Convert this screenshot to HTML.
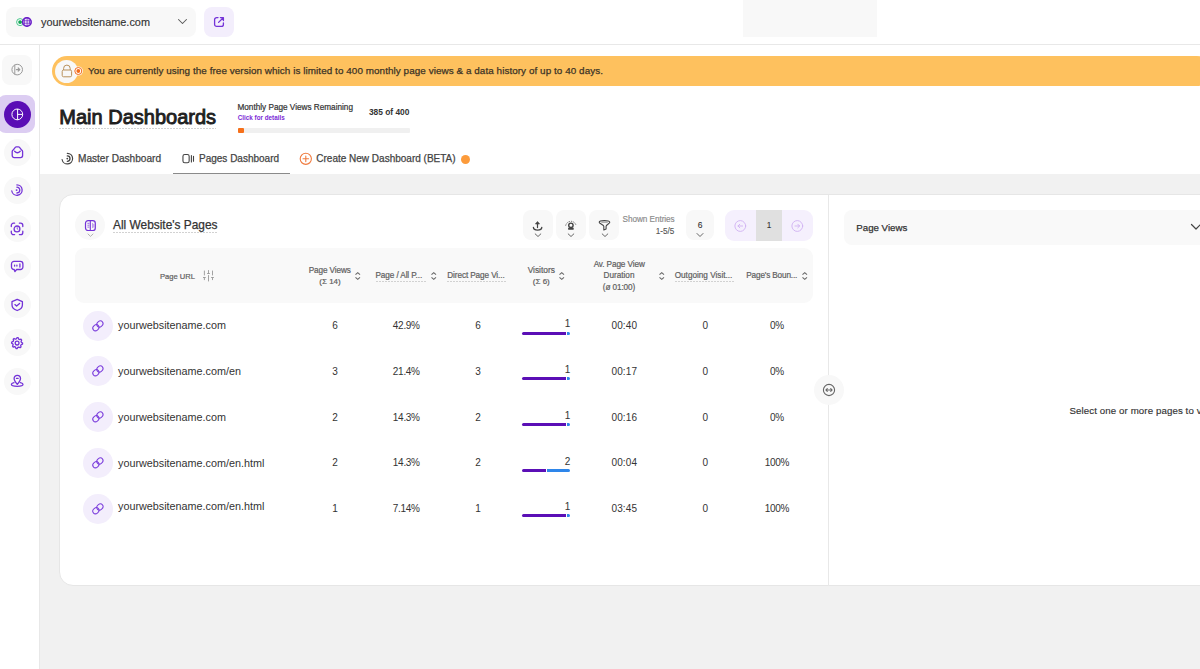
<!DOCTYPE html>
<html><head><meta charset="utf-8"><style>
html,body{margin:0;padding:0;width:1200px;height:669px;overflow:hidden;background:#fff;font-family:"Liberation Sans",sans-serif;}
#root{position:relative;width:1200px;height:669px;overflow:hidden;}
.a{position:absolute;}
.t{position:absolute;white-space:nowrap;line-height:1;}
svg{overflow:visible}
</style></head><body><div id="root">
<div class="a" style="left:6px;top:7px;width:190px;height:30px;background:#f8f8f8;border-radius:8px;"></div>
<svg class="a" style="left:12px;top:14px;" width="24" height="16" viewBox="0 0 24 16" fill="none"><circle cx="8.1" cy="8.1" r="3.5" fill="#fff" stroke="#48c68a" stroke-width="1"/><circle cx="8.1" cy="8.1" r="1.9" fill="#12a356"/><circle cx="14.9" cy="8" r="4.3" fill="#fff" stroke="#6a1ec8" stroke-width="1.5"/><ellipse cx="14.9" cy="8" rx="2.6" ry="4.3" stroke="#6a1ec8" stroke-width="0.8"/><path d="M15.1 3.7v8.6M10.6 6.8h8.6M10.6 9.2h8.6" stroke="#6a1ec8" stroke-width="0.8"/></svg>
<div class="t" style="left:41px;top:17px;font-size:10.9px;color:#333;font-weight:400;-webkit-text-stroke:0.15px #333;">yourwebsitename.com</div>
<svg class="a" style="left:176px;top:17px;" width="12" height="9" viewBox="0 0 12 9" fill="none"><path d="M2.5 2.5l4 4 4-4" stroke="#555" stroke-width="1.05" stroke-linecap="round" stroke-linejoin="round"/></svg>
<div class="a" style="left:204px;top:7px;width:30px;height:30px;background:#f3eefc;border-radius:8px;"></div>
<svg class="a" style="left:213px;top:16px;" width="12" height="12" viewBox="0 0 12 12" fill="none"><path d="M5 1.6H3.6A2 2 0 0 0 1.6 3.6v4.8a2 2 0 0 0 2 2h4.8a2 2 0 0 0 2-2V7" stroke="#7433d8" stroke-width="1.3" stroke-linecap="round"/><path d="M5.6 6.4L10.2 1.8M7.4 1.6h3v3" stroke="#7433d8" stroke-width="1.3" stroke-linecap="round" stroke-linejoin="round"/></svg>
<div class="a" style="left:743px;top:0px;width:134px;height:37px;background:#f8f8f8;border-radius:0px;"></div>
<div class="a" style="left:0px;top:44px;width:1200px;height:1px;background:#e8e8e8;border-radius:0px;"></div>
<div class="a" style="left:39px;top:45px;width:1px;height:624px;background:#e8e8e8;border-radius:0px;"></div>
<div class="a" style="left:2px;top:55px;width:30px;height:30px;background:#f8f8f8;border-radius:8px;"></div>
<svg class="a" style="left:10px;top:62px;" width="14" height="14" viewBox="0 0 14 14" fill="none"><circle cx="7.2" cy="7.6" r="5.3" stroke="#9a9a9a" stroke-width="1"/><path d="M4.8 2.8v9.6" stroke="#9a9a9a" stroke-width="1"/><path d="M6.4 7.6h3.2M8.2 6l1.6 1.6-1.6 1.6" stroke="#9a9a9a" stroke-width="1.2" stroke-linecap="round" stroke-linejoin="round"/></svg>
<div class="a" style="left:-3px;top:95px;width:38px;height:38px;background:#dccdf2;border-radius:9px;"></div>
<div class="a" style="left:4px;top:101px;width:27px;height:27px;border-radius:50%;background:#5a0db5"></div>
<svg class="a" style="left:10px;top:107px;" width="15" height="15" viewBox="0 0 15 15" fill="none"><circle cx="7.3" cy="7.4" r="5.4" stroke="#fff" stroke-width="1"/><path d="M7.6 2v10.8M7.6 7.4h5.1" stroke="#fff" stroke-width="1"/></svg>
<div class="a" style="left:3.5px;top:138.5px;width:27px;height:27px;border-radius:50%;background:#f8f8f8"></div>
<div class="a" style="left:3.5px;top:176.5px;width:27px;height:27px;border-radius:50%;background:#f8f8f8"></div>
<div class="a" style="left:3.5px;top:215.0px;width:27px;height:27px;border-radius:50%;background:#f8f8f8"></div>
<div class="a" style="left:3.5px;top:253.0px;width:27px;height:27px;border-radius:50%;background:#f8f8f8"></div>
<div class="a" style="left:3.5px;top:291.0px;width:27px;height:27px;border-radius:50%;background:#f8f8f8"></div>
<div class="a" style="left:3.5px;top:329.0px;width:27px;height:27px;border-radius:50%;background:#f8f8f8"></div>
<div class="a" style="left:3.5px;top:367.5px;width:27px;height:27px;border-radius:50%;background:#f8f8f8"></div>
<svg class="a" style="left:9px;top:144.2px;" width="16" height="16" viewBox="0 0 16 16" fill="none"><path d="M4.3 5.9L6.3 3.3Q6.7 2.8 7.3 2.8H9.5Q10.1 2.8 10.5 3.3L12.5 5.9Q13.6 6.4 13.6 7.6V11.6A2 2 0 0 1 11.6 13.6H5.2A2 2 0 0 1 3.2 11.6V7.6Q3.2 6.4 4.3 5.9z" stroke="#7433d8" stroke-width="1.3" stroke-linecap="round" stroke-linejoin="round"/><path d="M5.6 7.3Q8.4 10.2 11.2 7.3" stroke="#7433d8" stroke-width="1.3" stroke-linecap="round" stroke-linejoin="round"/></svg>
<svg class="a" style="left:9px;top:182.2px;" width="16" height="16" viewBox="0 0 16 16" fill="none"><path d="M7.9 2.9A5.2 5.2 0 1 1 2.8 9" stroke="#7433d8" stroke-width="1.3" stroke-linecap="round" stroke-linejoin="round"/><path d="M7.9 5.2A2.9 2.9 0 0 1 7.9 11" stroke="#7433d8" stroke-width="1.3" stroke-linecap="round" stroke-linejoin="round"/><circle cx="7.6" cy="8.1" r="0.95" fill="#7433d8"/></svg>
<svg class="a" style="left:9px;top:220.7px;" width="16" height="16" viewBox="0 0 16 16" fill="none"><path d="M2.3 5.6V4.4A2.2 2.2 0 0 1 4.5 2.2H5.6M10.4 2.2H11.6A2.2 2.2 0 0 1 13.8 4.4V5.6M13.8 10.2V11.4A2.2 2.2 0 0 1 11.6 13.6H10.4M5.6 13.6H4.5A2.2 2.2 0 0 1 2.3 11.4V10.2" stroke="#7433d8" stroke-width="1.3" stroke-linecap="round" stroke-linejoin="round"/><circle cx="8" cy="7.9" r="2.9" stroke="#7433d8" stroke-width="1.3" stroke-linecap="round" stroke-linejoin="round"/><path d="M8.2 6.6v1.3l.7.5" stroke="#7433d8" stroke-width="0.8" stroke-linecap="round"/></svg>
<svg class="a" style="left:9px;top:258.7px;" width="16" height="16" viewBox="0 0 16 16" fill="none"><path d="M5 2.4H11.4A2.5 2.5 0 0 1 13.9 4.9V8A2.5 2.5 0 0 1 11.4 10.5H7.6L5.9 12.6 5.2 10.5H5A2.5 2.5 0 0 1 2.5 8V4.9A2.5 2.5 0 0 1 5 2.4z" stroke="#7433d8" stroke-width="1.3" stroke-linecap="round" stroke-linejoin="round"/><path d="M5.6 6.1v.9M7.9 6.1v.9M10.9 4.9v3.2" stroke="#7433d8" stroke-width="1.3" stroke-linecap="round" stroke-linejoin="round"/></svg>
<svg class="a" style="left:9px;top:296.7px;" width="16" height="16" viewBox="0 0 16 16" fill="none"><path d="M8.2 2.4L13.4 4.6V8C13.4 10.6 11.2 12.6 8.2 13.5 5.2 12.6 3 10.6 3 8V4.6z" stroke="#7433d8" stroke-width="1.3" stroke-linecap="round" stroke-linejoin="round"/><path d="M5.9 7.6L7.6 9.1 10.6 6.4" stroke="#7433d8" stroke-width="1.3" stroke-linecap="round" stroke-linejoin="round"/></svg>
<svg class="a" style="left:9px;top:334.7px;" width="16" height="16" viewBox="0 0 16 16" fill="none"><path d="M8.10 2.60L9.17 2.71L9.75 4.13L10.49 4.52L11.99 4.21L12.67 5.04L12.07 6.45L12.32 7.26L13.60 8.10L13.49 9.17L12.07 9.75L11.68 10.49L11.99 11.99L11.16 12.67L9.75 12.07L8.94 12.32L8.10 13.60L7.03 13.49L6.45 12.07L5.71 11.68L4.21 11.99L3.53 11.16L4.13 9.75L3.88 8.94L2.60 8.10L2.71 7.03L4.13 6.45L4.52 5.71L4.21 4.21L5.04 3.53L6.45 4.13L7.26 3.88Z" stroke="#7433d8" stroke-width="1.3" stroke-linecap="round" stroke-linejoin="round"/><circle cx="8.1" cy="8.1" r="1.9" stroke="#7433d8" stroke-width="1.3" stroke-linecap="round" stroke-linejoin="round"/></svg>
<svg class="a" style="left:9px;top:373.2px;" width="16" height="16" viewBox="0 0 16 16" fill="none"><path d="M8.3 11.4C6.6 9.4 5.1 7.6 5.1 5.5A3.2 3.2 0 0 1 11.5 5.5C11.5 7.6 10 9.4 8.3 11.4z" stroke="#7433d8" stroke-width="1.3" stroke-linecap="round" stroke-linejoin="round"/><path d="M7.5 5.4H9.1" stroke="#7433d8" stroke-width="1.3" stroke-linecap="round" stroke-linejoin="round"/><path d="M5 9.6C3.3 10 2.4 10.6 2.4 11.3 2.4 12.6 5 13.4 8.2 13.4S14 12.6 14 11.3C14 10.6 13.1 10 11.4 9.6" stroke="#7433d8" stroke-width="1.3" stroke-linecap="round" stroke-linejoin="round"/></svg>
<div class="a" style="left:40px;top:174px;width:1160px;height:495px;background:#f1f1f1;border-radius:0px;"></div>
<div class="a" style="left:52px;top:56px;width:1160px;height:30px;background:#fec15e;border-radius:15px;"></div>
<div class="a" style="left:54.5px;top:59.5px;width:23px;height:23px;border-radius:50%;background:#f8f8f8"></div>
<svg class="a" style="left:60px;top:64px;" width="14" height="14" viewBox="0 0 14 14" fill="none"><rect x="2.2" y="6" width="9.4" height="6.8" rx="1.4" stroke="#b8905a" stroke-width="1"/><path d="M3.6 6V4.4a3.3 3.3 0 0 1 6.6 0V6" stroke="#b8905a" stroke-width="1"/></svg>
<svg class="a" style="left:73px;top:66px;" width="11" height="11" viewBox="0 0 11 11" fill="none"><circle cx="5.3" cy="5" r="4.6" fill="#fff"/><circle cx="5.3" cy="5" r="3.5" fill="none" stroke="#f26a1b" stroke-width="1"/><circle cx="5.3" cy="5" r="1.9" fill="#f26a1b"/></svg>
<div class="t" style="left:88px;top:66px;font-size:9.9px;color:#3b3326;font-weight:400;letter-spacing:0.065px;-webkit-text-stroke:0.25px #3b3326;">You are currently using the free version which is limited to 400 monthly page views &amp; a data history of up to 40 days.</div>
<div class="t" style="left:59.3px;top:107px;font-size:20px;color:#1f1f1f;font-weight:400;-webkit-text-stroke:0.9px #1f1f1f;">Main Dashboards</div>
<div class="a" style="left:59px;top:128px;width:157px;height:1px;background:transparent;border-radius:0px;background:repeating-linear-gradient(90deg,#d2d2d2 0 2px,transparent 2px 3px);"></div>
<div class="t" style="left:237.5px;top:104px;font-size:8.2px;color:#333;font-weight:400;-webkit-text-stroke:0.2px #333;">Monthly Page Views Remaining</div>
<div class="t" style="left:237.8px;top:115px;font-size:6.3px;color:#7b2ad6;font-weight:700;">Click for details</div>
<div class="t" style="left:9.399999999999977px;width:400px;text-align:right;top:108px;font-size:8.4px;color:#333;font-weight:700;">385 of 400</div>
<div class="a" style="left:238px;top:128px;width:172px;height:5px;background:#f0f0f0;border-radius:1px;"></div>
<div class="a" style="left:238px;top:128px;width:6px;height:5px;background:#f6701a;border-radius:1px;"></div>
<svg class="a" style="left:60px;top:152px;" width="14" height="14" viewBox="0 0 14 14" fill="none"><path d="M7.3 1.3A5.3 5.3 0 1 1 2.08 7.5" stroke="#444" stroke-width="1.2" stroke-linecap="round"/><path d="M7.3 3.9A2.7 2.7 0 0 1 7.3 9.3" stroke="#444" stroke-width="1.3" stroke-linecap="round"/><circle cx="7.3" cy="6.6" r="0.9" fill="#444"/></svg>
<div class="t" style="left:78px;top:154px;font-size:10.1px;color:#444;font-weight:400;-webkit-text-stroke:0.25px #444;">Master Dashboard</div>
<svg class="a" style="left:180px;top:152px;" width="15" height="14" viewBox="0 0 15 14" fill="none"><rect x="2.95" y="2.55" width="6.2" height="8.2" rx="1.8" stroke="#444" stroke-width="1.1"/><path d="M11.4 3.6v6.3M13.5 4.2v5" stroke="#444" stroke-width="1.1" stroke-linecap="round"/></svg>
<div class="t" style="left:199px;top:154px;font-size:10px;color:#444;font-weight:400;-webkit-text-stroke:0.25px #444;">Pages Dashboard</div>
<div class="a" style="left:172.5px;top:172.5px;width:117px;height:1.5px;background:#8a8a8a;border-radius:0px;"></div>
<svg class="a" style="left:299px;top:152px;" width="14" height="14" viewBox="0 0 14 14" fill="none"><circle cx="6.8" cy="6.8" r="5.6" stroke="#f07b3f" stroke-width="1.1"/><path d="M6.8 4v5.6M4 6.8h5.6" stroke="#f07b3f" stroke-width="1.1" stroke-linecap="round"/></svg>
<div class="t" style="left:316.3px;top:154px;font-size:10px;color:#444;font-weight:400;-webkit-text-stroke:0.25px #444;">Create New Dashboard (BETA)</div>
<div class="a" style="left:461px;top:154.5px;width:9px;height:9px;border-radius:50%;background:#fc9b3b"></div>
<div class="a" style="left:59px;top:194px;width:1161px;height:392px;background:#fff;border:1px solid #e6e6e6;border-radius:14px;box-sizing:border-box"></div>
<div class="a" style="left:828px;top:195px;width:1px;height:391px;background:#e8e8e8;border-radius:0px;"></div>
<div class="a" style="left:814px;top:375px;width:30px;height:30px;border-radius:50%;background:#f8f8f8"></div>
<svg class="a" style="left:822px;top:383px;" width="14" height="14" viewBox="0 0 14 14" fill="none"><circle cx="7" cy="7" r="5.6" stroke="#666" stroke-width="1.1"/><path d="M4.2 7h5.6" stroke="#666" stroke-width="1"/><path d="M5.6 5.4L4 7l1.6 1.6M8.4 5.4L10 7 8.4 8.6" stroke="#666" stroke-width="1.2" stroke-linejoin="round"/></svg>
<div class="a" style="left:75px;top:210px;width:30px;height:30px;border-radius:50%;background:#f8f8f8"></div>
<svg class="a" style="left:84px;top:219px;" width="13" height="13" viewBox="0 0 13 13" fill="none"><rect x="1.5" y="1.6" width="9.8" height="9.9" rx="2.6" stroke="#7433d8" stroke-width="1.2"/><path d="M6.3 1.6v9.9" stroke="#7433d8" stroke-width="1.1"/><path d="M3.4 4.3h2M3.4 6.2h2M3.4 8.1h2" stroke="#7433d8" stroke-width="0.9" opacity="0.8"/><path d="M8.6 4v5M9.8 5v3.5" stroke="#7433d8" stroke-width="0.8" opacity="0.6"/></svg>
<svg class="a" style="left:87px;top:233px;" width="7" height="5" viewBox="0 0 7 5" fill="none"><path d="M1 1l2.5 2.4L6 1" stroke="#aaa" stroke-width="0.9" stroke-linecap="round" stroke-linejoin="round"/></svg>
<div class="t" style="left:113px;top:220px;font-size:11.9px;color:#333;font-weight:400;-webkit-text-stroke:0.25px #333;">All Website's Pages</div>
<div class="a" style="left:113px;top:232px;width:104px;height:1px;background:transparent;border-radius:0px;background:repeating-linear-gradient(90deg,#d2d2d2 0 2px,transparent 2px 3px);"></div>
<div class="a" style="left:523px;top:210px;width:30px;height:30px;background:#f8f8f8;border-radius:8px;"></div>
<div class="a" style="left:556px;top:210px;width:30px;height:30px;background:#f8f8f8;border-radius:8px;"></div>
<div class="a" style="left:589px;top:210px;width:30px;height:30px;background:#f8f8f8;border-radius:8px;"></div>
<svg class="a" style="left:531px;top:219px;" width="14" height="14" viewBox="0 0 14 14" fill="none"><path d="M6.5 3.4V8.6" stroke="#444" stroke-width="1.2" stroke-linecap="round"/><path d="M4.4 5L6.5 2.6 8.6 5z" fill="#444" stroke="#444" stroke-width="0.6" stroke-linejoin="round"/><path d="M2.4 8.4Q2.6 11.1 6.6 11.1Q10.6 11.1 10.8 8.4" stroke="#444" stroke-width="1.3" stroke-linecap="round"/></svg>
<svg class="a" style="left:564px;top:219px;" width="14" height="14" viewBox="0 0 14 14" fill="none"><circle cx="6.9" cy="6.3" r="2.2" stroke="#444" stroke-width="1.4"/><rect x="4.1" y="8.7" width="5.6" height="2" rx="0.4" fill="#444"/><path d="M1.7 6.6A5.3 5.3 0 0 1 12.1 6.6" stroke="#555" stroke-width="0.9" stroke-dasharray="1.3 1.1"/></svg>
<svg class="a" style="left:597px;top:219px;" width="14" height="14" viewBox="0 0 14 14" fill="none"><path d="M2.2 3.3C2.2 1.1 12.8 1.1 12.8 3.3C12.8 4.7 9.1 5.9 9.1 7.3V10.1L6.8 11V7.3C6.8 5.9 2.2 4.7 2.2 3.3z" stroke="#444" stroke-width="1.1" stroke-linejoin="round"/><path d="M4.8 3.2H10.2" stroke="#999" stroke-width="1.1" stroke-linecap="round"/></svg>
<svg class="a" style="left:534px;top:233px;" width="8" height="5" viewBox="0 0 8 5" fill="none"><path d="M1.2 0.9l2.8 2.6 2.8-2.6" stroke="#555" stroke-width="0.9" stroke-linecap="round" stroke-linejoin="round"/></svg>
<svg class="a" style="left:567px;top:233px;" width="8" height="5" viewBox="0 0 8 5" fill="none"><path d="M1.2 0.9l2.8 2.6 2.8-2.6" stroke="#555" stroke-width="0.9" stroke-linecap="round" stroke-linejoin="round"/></svg>
<svg class="a" style="left:600.5px;top:233px;" width="8" height="5" viewBox="0 0 8 5" fill="none"><path d="M1.2 0.9l2.8 2.6 2.8-2.6" stroke="#555" stroke-width="0.9" stroke-linecap="round" stroke-linejoin="round"/></svg>
<div class="t" style="left:622.5px;top:216px;font-size:8.2px;color:#8a8a8a;font-weight:400;letter-spacing:-0.05px;-webkit-text-stroke:0.15px #8a8a8a;">Shown Entries</div>
<div class="t" style="left:274.29999999999995px;width:400px;text-align:right;top:228px;font-size:8.2px;color:#555;font-weight:400;-webkit-text-stroke:0.1px #555;">1-5/5</div>
<div class="a" style="left:686px;top:210px;width:28px;height:30px;background:#f8f8f8;border-radius:8px;"></div>
<div class="t" style="left:500px;width:400px;text-align:center;top:221px;font-size:8.5px;color:#333;font-weight:400;-webkit-text-stroke:0.1px #333;">6</div>
<svg class="a" style="left:696px;top:232px;" width="8" height="6" viewBox="0 0 8 6" fill="none"><path d="M1 1.5l3 3 3-3" stroke="#555" stroke-width="0.9" stroke-linecap="round" stroke-linejoin="round"/></svg>
<div class="a" style="left:725px;top:210px;width:88px;height:31px;background:#f5f0fd;border-radius:9px;"></div>
<div class="a" style="left:756px;top:210px;width:26px;height:31px;background:#e0e0e0;border-radius:0px;"></div>
<div class="t" style="left:569px;width:400px;text-align:center;top:222px;font-size:8.2px;color:#333;font-weight:400;-webkit-text-stroke:0.1px #333;">1</div>
<svg class="a" style="left:733.4px;top:218.5px;" width="14" height="14" viewBox="0 0 14 14" fill="none"><circle cx="7.3" cy="7" r="5.4" stroke="#d2b4f2" stroke-width="0.95" stroke-linecap="round" stroke-linejoin="round"/><path d="M9.6 7H5M6.8 5.2L5 7l1.8 1.8" stroke="#d2b4f2" stroke-width="0.95" stroke-linecap="round" stroke-linejoin="round"/></svg>
<svg class="a" style="left:790.2px;top:218.5px;" width="14" height="14" viewBox="0 0 14 14" fill="none"><circle cx="7.3" cy="7" r="5.4" stroke="#d2b4f2" stroke-width="0.95" stroke-linecap="round" stroke-linejoin="round"/><path d="M5 7h4.6M7.8 5.2L9.6 7 7.8 8.8" stroke="#d2b4f2" stroke-width="0.95" stroke-linecap="round" stroke-linejoin="round"/></svg>
<div class="a" style="left:75px;top:248px;width:738px;height:55px;background:#f9f9f9;border-radius:9px;"></div>
<div class="t" style="left:160px;top:273px;font-size:7.6px;color:#606060;font-weight:400;-webkit-text-stroke:0.2px #606060;">Page URL</div>
<svg class="a" style="left:201px;top:269px;" width="14" height="14" viewBox="0 0 14 14" fill="none"><path d="M3.4 2v4M3.4 8.5v2.2M2.4 8.5h2M7.5 1.5v3M7.5 6.5v5.5M6.5 4.5h2M11.5 2v4M11.5 8.5v2.2M10.5 8.5h2" stroke="#999" stroke-width="0.9" stroke-linecap="round"/></svg>
<div class="t" style="left:129.7px;width:400px;text-align:center;top:267px;font-size:8.2px;color:#606060;font-weight:400;letter-spacing:-0.1px;-webkit-text-stroke:0.2px #606060;">Page Views</div>
<div class="t" style="left:130px;width:400px;text-align:center;top:278px;font-size:8px;color:#606060;font-weight:400;-webkit-text-stroke:0.2px #606060;">(Σ 14)</div>
<svg class="a" style="left:355px;top:272px;" width="6" height="8" viewBox="0 0 6 8" fill="none"><path d="M0.5 2.7L2.75 0.6 5 2.7M0.5 5.3L2.75 7.4 5 5.3" stroke="#666" stroke-width="1.05" stroke-linecap="butt" stroke-linejoin="miter"/></svg>
<div class="t" style="left:375.5px;top:272px;font-size:8.2px;color:#606060;font-weight:400;letter-spacing:-0.1px;-webkit-text-stroke:0.2px #606060;">Page / All P...</div>
<div class="a" style="left:376px;top:281px;width:51px;height:1px;background:transparent;border-radius:0px;background:repeating-linear-gradient(90deg,#d2d2d2 0 2px,transparent 2px 3px);"></div>
<svg class="a" style="left:431px;top:272px;" width="6" height="8" viewBox="0 0 6 8" fill="none"><path d="M0.5 2.7L2.75 0.6 5 2.7M0.5 5.3L2.75 7.4 5 5.3" stroke="#666" stroke-width="1.05" stroke-linecap="butt" stroke-linejoin="miter"/></svg>
<div class="t" style="left:447.3px;top:272px;font-size:8.2px;color:#606060;font-weight:400;letter-spacing:-0.1px;-webkit-text-stroke:0.2px #606060;">Direct Page Vi...</div>
<div class="a" style="left:447px;top:281px;width:59px;height:1px;background:transparent;border-radius:0px;background:repeating-linear-gradient(90deg,#d2d2d2 0 2px,transparent 2px 3px);"></div>
<div class="t" style="left:341.29999999999995px;width:400px;text-align:center;top:266px;font-size:8.4px;color:#606060;font-weight:400;-webkit-text-stroke:0.2px #606060;">Visitors</div>
<div class="t" style="left:341.29999999999995px;width:400px;text-align:center;top:278px;font-size:8px;color:#606060;font-weight:400;-webkit-text-stroke:0.2px #606060;">(Σ 6)</div>
<svg class="a" style="left:559px;top:272px;" width="6" height="8" viewBox="0 0 6 8" fill="none"><path d="M0.5 2.7L2.75 0.6 5 2.7M0.5 5.3L2.75 7.4 5 5.3" stroke="#666" stroke-width="1.05" stroke-linecap="butt" stroke-linejoin="miter"/></svg>
<div class="t" style="left:419.20000000000005px;width:400px;text-align:center;top:261px;font-size:8.2px;color:#606060;font-weight:400;letter-spacing:-0.1px;-webkit-text-stroke:0.2px #606060;">Av. Page View</div>
<div class="t" style="left:419px;width:400px;text-align:center;top:272px;font-size:8.2px;color:#606060;font-weight:400;-webkit-text-stroke:0.2px #606060;">Duration</div>
<div class="t" style="left:419px;width:400px;text-align:center;top:284px;font-size:8.2px;color:#606060;font-weight:400;letter-spacing:-0.1px;-webkit-text-stroke:0.2px #606060;">(ø 01:00)</div>
<svg class="a" style="left:658.5px;top:272px;" width="6" height="8" viewBox="0 0 6 8" fill="none"><path d="M0.5 2.7L2.75 0.6 5 2.7M0.5 5.3L2.75 7.4 5 5.3" stroke="#666" stroke-width="1.05" stroke-linecap="butt" stroke-linejoin="miter"/></svg>
<div class="t" style="left:674.7px;top:272px;font-size:8.2px;color:#606060;font-weight:400;-webkit-text-stroke:0.2px #606060;">Outgoing Visit...</div>
<div class="a" style="left:675px;top:281px;width:59px;height:1px;background:transparent;border-radius:0px;background:repeating-linear-gradient(90deg,#d2d2d2 0 2px,transparent 2px 3px);"></div>
<div class="t" style="left:746.3px;top:272px;font-size:8.2px;color:#606060;font-weight:400;letter-spacing:-0.15px;-webkit-text-stroke:0.2px #606060;">Page's Boun...</div>
<svg class="a" style="left:801.5px;top:272px;" width="6" height="8" viewBox="0 0 6 8" fill="none"><path d="M0.5 2.7L2.75 0.6 5 2.7M0.5 5.3L2.75 7.4 5 5.3" stroke="#666" stroke-width="1.05" stroke-linecap="butt" stroke-linejoin="miter"/></svg>
<div class="a" style="left:83px;top:311px;width:30px;height:30px;border-radius:50%;background:#f3eefc"></div>
<svg class="a" style="left:91px;top:319px;" width="14" height="14" viewBox="0 0 14 14" fill="none"><ellipse cx="8.9" cy="5.0" rx="3.3" ry="2.75" transform="rotate(-40 8.9 5.0)" stroke="#7b3ddc" stroke-width="1.0"/><ellipse cx="4.9" cy="8.7" rx="3.3" ry="2.75" transform="rotate(-40 4.9 8.7)" stroke="#7b3ddc" stroke-width="1.0"/></svg>
<div class="t" style="left:118px;top:320px;font-size:10.8px;color:#333;font-weight:400;">yourwebsitename.com</div>
<div class="t" style="left:135px;width:400px;text-align:center;top:321px;font-size:10px;color:#333;font-weight:400;">6</div>
<div class="t" style="left:206.3px;width:400px;text-align:center;top:321px;font-size:10px;color:#333;font-weight:400;letter-spacing:-0.3px;">42.9%</div>
<div class="t" style="left:278px;width:400px;text-align:center;top:321px;font-size:10px;color:#333;font-weight:400;">6</div>
<div class="t" style="left:170.29999999999995px;width:400px;text-align:right;top:319px;font-size:10px;color:#333;font-weight:400;">1</div>
<div class="a" style="left:522px;top:332px;width:44px;height:3.3px;background:#5b0fb6;border-radius:0px;border-radius:1.65px 0 0 1.65px;"></div>
<div class="a" style="left:566.6px;top:332px;width:3.6000000000000028px;height:3.3px;background:#2e86ea;border-radius:0px;border-radius:0 1.65px 1.65px 0;"></div>
<div class="t" style="left:424.29999999999995px;width:400px;text-align:center;top:321px;font-size:10px;color:#333;font-weight:400;letter-spacing:0.1px;">00:40</div>
<div class="t" style="left:505.4px;width:400px;text-align:center;top:321px;font-size:10px;color:#333;font-weight:400;">0</div>
<div class="t" style="left:577px;width:400px;text-align:center;top:321px;font-size:10px;color:#333;font-weight:400;letter-spacing:-0.3px;">0%</div>
<div class="a" style="left:83px;top:356.4px;width:30px;height:30px;border-radius:50%;background:#f3eefc"></div>
<svg class="a" style="left:91px;top:364.4px;" width="14" height="14" viewBox="0 0 14 14" fill="none"><ellipse cx="8.9" cy="5.0" rx="3.3" ry="2.75" transform="rotate(-40 8.9 5.0)" stroke="#7b3ddc" stroke-width="1.0"/><ellipse cx="4.9" cy="8.7" rx="3.3" ry="2.75" transform="rotate(-40 4.9 8.7)" stroke="#7b3ddc" stroke-width="1.0"/></svg>
<div class="t" style="left:118px;top:366px;font-size:10.8px;color:#333;font-weight:400;">yourwebsitename.com/en</div>
<div class="t" style="left:135px;width:400px;text-align:center;top:367px;font-size:10px;color:#333;font-weight:400;">3</div>
<div class="t" style="left:206.3px;width:400px;text-align:center;top:367px;font-size:10px;color:#333;font-weight:400;letter-spacing:-0.3px;">21.4%</div>
<div class="t" style="left:278px;width:400px;text-align:center;top:367px;font-size:10px;color:#333;font-weight:400;">3</div>
<div class="t" style="left:170.29999999999995px;width:400px;text-align:right;top:365px;font-size:10px;color:#333;font-weight:400;">1</div>
<div class="a" style="left:522px;top:377px;width:44px;height:3.3px;background:#5b0fb6;border-radius:0px;border-radius:1.65px 0 0 1.65px;"></div>
<div class="a" style="left:566.6px;top:377px;width:3.6000000000000028px;height:3.3px;background:#2e86ea;border-radius:0px;border-radius:0 1.65px 1.65px 0;"></div>
<div class="t" style="left:424.29999999999995px;width:400px;text-align:center;top:367px;font-size:10px;color:#333;font-weight:400;letter-spacing:0.1px;">00:17</div>
<div class="t" style="left:505.4px;width:400px;text-align:center;top:367px;font-size:10px;color:#333;font-weight:400;">0</div>
<div class="t" style="left:577px;width:400px;text-align:center;top:367px;font-size:10px;color:#333;font-weight:400;letter-spacing:-0.3px;">0%</div>
<div class="a" style="left:83px;top:402px;width:30px;height:30px;border-radius:50%;background:#f3eefc"></div>
<svg class="a" style="left:91px;top:410px;" width="14" height="14" viewBox="0 0 14 14" fill="none"><ellipse cx="8.9" cy="5.0" rx="3.3" ry="2.75" transform="rotate(-40 8.9 5.0)" stroke="#7b3ddc" stroke-width="1.0"/><ellipse cx="4.9" cy="8.7" rx="3.3" ry="2.75" transform="rotate(-40 4.9 8.7)" stroke="#7b3ddc" stroke-width="1.0"/></svg>
<div class="t" style="left:118px;top:412px;font-size:10.8px;color:#333;font-weight:400;">yourwebsitename.com</div>
<div class="t" style="left:135px;width:400px;text-align:center;top:413px;font-size:10px;color:#333;font-weight:400;">2</div>
<div class="t" style="left:206.3px;width:400px;text-align:center;top:413px;font-size:10px;color:#333;font-weight:400;letter-spacing:-0.3px;">14.3%</div>
<div class="t" style="left:278px;width:400px;text-align:center;top:413px;font-size:10px;color:#333;font-weight:400;">2</div>
<div class="t" style="left:170.29999999999995px;width:400px;text-align:right;top:411px;font-size:10px;color:#333;font-weight:400;">1</div>
<div class="a" style="left:522px;top:423px;width:44px;height:3.3px;background:#5b0fb6;border-radius:0px;border-radius:1.65px 0 0 1.65px;"></div>
<div class="a" style="left:566.6px;top:423px;width:3.6000000000000028px;height:3.3px;background:#2e86ea;border-radius:0px;border-radius:0 1.65px 1.65px 0;"></div>
<div class="t" style="left:424.29999999999995px;width:400px;text-align:center;top:413px;font-size:10px;color:#333;font-weight:400;letter-spacing:0.1px;">00:16</div>
<div class="t" style="left:505.4px;width:400px;text-align:center;top:413px;font-size:10px;color:#333;font-weight:400;">0</div>
<div class="t" style="left:577px;width:400px;text-align:center;top:413px;font-size:10px;color:#333;font-weight:400;letter-spacing:-0.3px;">0%</div>
<div class="a" style="left:83px;top:448px;width:30px;height:30px;border-radius:50%;background:#f3eefc"></div>
<svg class="a" style="left:91px;top:456px;" width="14" height="14" viewBox="0 0 14 14" fill="none"><ellipse cx="8.9" cy="5.0" rx="3.3" ry="2.75" transform="rotate(-40 8.9 5.0)" stroke="#7b3ddc" stroke-width="1.0"/><ellipse cx="4.9" cy="8.7" rx="3.3" ry="2.75" transform="rotate(-40 4.9 8.7)" stroke="#7b3ddc" stroke-width="1.0"/></svg>
<div class="t" style="left:118px;top:458px;font-size:10.8px;color:#333;font-weight:400;">yourwebsitename.com/en.html</div>
<div class="t" style="left:135px;width:400px;text-align:center;top:458px;font-size:10px;color:#333;font-weight:400;">2</div>
<div class="t" style="left:206.3px;width:400px;text-align:center;top:458px;font-size:10px;color:#333;font-weight:400;letter-spacing:-0.3px;">14.3%</div>
<div class="t" style="left:278px;width:400px;text-align:center;top:458px;font-size:10px;color:#333;font-weight:400;">2</div>
<div class="t" style="left:170.29999999999995px;width:400px;text-align:right;top:457px;font-size:10px;color:#333;font-weight:400;">2</div>
<div class="a" style="left:522px;top:469px;width:24px;height:3.3px;background:#5b0fb6;border-radius:0px;border-radius:1.65px 0 0 1.65px;"></div>
<div class="a" style="left:546.6px;top:469px;width:23.6px;height:3.3px;background:#2e86ea;border-radius:0px;border-radius:0 1.65px 1.65px 0;"></div>
<div class="t" style="left:424.29999999999995px;width:400px;text-align:center;top:458px;font-size:10px;color:#333;font-weight:400;letter-spacing:0.1px;">00:04</div>
<div class="t" style="left:505.4px;width:400px;text-align:center;top:458px;font-size:10px;color:#333;font-weight:400;">0</div>
<div class="t" style="left:577px;width:400px;text-align:center;top:458px;font-size:10px;color:#333;font-weight:400;letter-spacing:-0.3px;">100%</div>
<div class="a" style="left:83px;top:494px;width:30px;height:30px;border-radius:50%;background:#f3eefc"></div>
<svg class="a" style="left:91px;top:502px;" width="14" height="14" viewBox="0 0 14 14" fill="none"><ellipse cx="8.9" cy="5.0" rx="3.3" ry="2.75" transform="rotate(-40 8.9 5.0)" stroke="#7b3ddc" stroke-width="1.0"/><ellipse cx="4.9" cy="8.7" rx="3.3" ry="2.75" transform="rotate(-40 4.9 8.7)" stroke="#7b3ddc" stroke-width="1.0"/></svg>
<div class="t" style="left:118px;top:501px;font-size:10.8px;color:#333;font-weight:400;">yourwebsitename.com/en.html</div>
<div class="t" style="left:135px;width:400px;text-align:center;top:504px;font-size:10px;color:#333;font-weight:400;">1</div>
<div class="t" style="left:206.3px;width:400px;text-align:center;top:504px;font-size:10px;color:#333;font-weight:400;letter-spacing:-0.3px;">7.14%</div>
<div class="t" style="left:278px;width:400px;text-align:center;top:504px;font-size:10px;color:#333;font-weight:400;">1</div>
<div class="t" style="left:170.29999999999995px;width:400px;text-align:right;top:502px;font-size:10px;color:#333;font-weight:400;">1</div>
<div class="a" style="left:522px;top:514px;width:44px;height:3.3px;background:#5b0fb6;border-radius:0px;border-radius:1.65px 0 0 1.65px;"></div>
<div class="a" style="left:566.6px;top:514px;width:3.6000000000000028px;height:3.3px;background:#2e86ea;border-radius:0px;border-radius:0 1.65px 1.65px 0;"></div>
<div class="t" style="left:424.29999999999995px;width:400px;text-align:center;top:504px;font-size:10px;color:#333;font-weight:400;letter-spacing:0.1px;">03:45</div>
<div class="t" style="left:505.4px;width:400px;text-align:center;top:504px;font-size:10px;color:#333;font-weight:400;">0</div>
<div class="t" style="left:577px;width:400px;text-align:center;top:504px;font-size:10px;color:#333;font-weight:400;letter-spacing:-0.3px;">100%</div>
<div class="a" style="left:844px;top:210px;width:400px;height:35px;background:#f9f9f9;border-radius:8px;"></div>
<div class="t" style="left:856.3px;top:223px;font-size:9.7px;color:#333;font-weight:400;-webkit-text-stroke:0.25px #333;">Page Views</div>
<svg class="a" style="left:1188px;top:220px;" width="14" height="12" viewBox="0 0 14 12" fill="none"><path d="M3.5 4.5l4.5 4.5 4.5-4.5" stroke="#444" stroke-width="1.2" stroke-linecap="round" stroke-linejoin="round"/></svg>
<div class="t" style="left:1069.5px;top:406px;font-size:9.7px;color:#333;font-weight:400;letter-spacing:0.1px;-webkit-text-stroke:0.15px #333;">Select one or more pages to view data</div>
</div></body></html>
